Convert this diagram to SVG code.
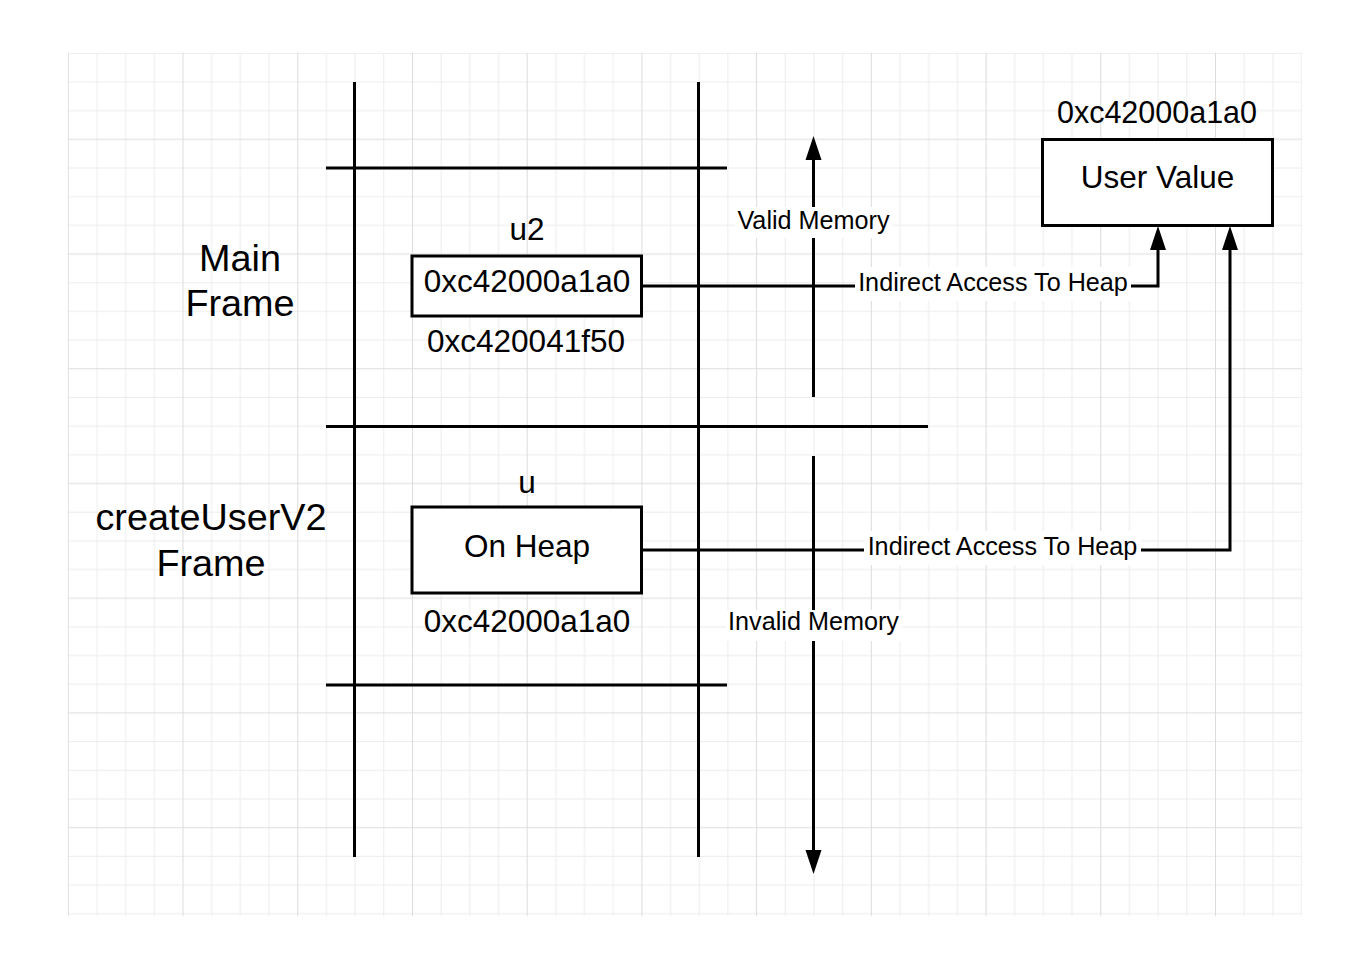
<svg xmlns="http://www.w3.org/2000/svg" width="1354" height="962" viewBox="0 0 1354 962">
  <defs>
    <style>
      text { font-family: "Liberation Sans", Arial, sans-serif; fill: #000; text-anchor: middle; }
      .big { font-size: 37.8px; }
      .mid { font-size: 31.5px; }
      .sm { font-size: 25.2px; }
      .ln { stroke: #000; stroke-width: 3; fill: none; }
      .box { stroke: #000; stroke-width: 3; fill: #fff; }
      .lbl { fill: #fff; }
      .minor { stroke: #ececec; stroke-width: 1; }
      .major { stroke: #dcdcdc; stroke-width: 1; }
    </style>
    <pattern id="grid" patternUnits="userSpaceOnUse" x="67.8" y="52.8" width="114.72" height="114.72">
      <line class="minor" x1="0.5" y1="0" x2="0.5" y2="114.72"/>
      <line class="minor" x1="29.18" y1="0" x2="29.18" y2="114.72"/>
      <line class="minor" x1="57.86" y1="0" x2="57.86" y2="114.72"/>
      <line class="minor" x1="86.54" y1="0" x2="86.54" y2="114.72"/>
      <line class="minor" x1="0" y1="0.5" x2="114.72" y2="0.5"/>
      <line class="minor" x1="0" y1="29.18" x2="114.72" y2="29.18"/>
      <line class="minor" x1="0" y1="57.86" x2="114.72" y2="57.86"/>
      <line class="major" x1="0" y1="86.54" x2="114.72" y2="86.54"/>
      <line class="major" x1="0.5" y1="0" x2="0.5" y2="114.72"/>
    </pattern>
    <marker id="arrow" markerUnits="userSpaceOnUse" markerWidth="26" markerHeight="18" refX="0" refY="8" orient="auto" viewBox="0 0 26 16">
      <path d="M0,0 L24,8 L0,16 Z" fill="#000"/>
    </marker>
  </defs>

  <rect x="0" y="0" width="1354" height="962" fill="#fff"/>
  <rect x="67.8" y="52.8" width="1234.3" height="863.4" fill="url(#grid)"/>

  <g id="frame-lines">
    <line class="ln" x1="354.5" y1="82" x2="354.5" y2="857"/>
    <line class="ln" x1="698.5" y1="82" x2="698.5" y2="857"/>
    <line class="ln" x1="326" y1="168" x2="727" y2="168"/>
    <line class="ln" x1="326" y1="426.5" x2="928" y2="426.5"/>
    <line class="ln" x1="326" y1="685" x2="727" y2="685"/>
  </g>

  <g id="connectors">
    <path class="ln" d="M642,286 H1158 V250" marker-end="url(#arrow)"/>
    <path class="ln" d="M642,550 H1230 V250" marker-end="url(#arrow)"/>
    <path class="ln" d="M813.5,397 V160" marker-end="url(#arrow)"/>
    <path class="ln" d="M813.5,456 V850" marker-end="url(#arrow)"/>
  </g>

  <g id="label-valid">
    <rect class="lbl" x="735" y="207" width="157" height="31"/>
    <text class="sm" x="813.5" y="229">Valid Memory</text>
  </g>
  <g id="label-invalid">
    <rect class="lbl" x="726" y="610" width="176" height="31"/>
    <text class="sm" x="813.5" y="630">Invalid Memory</text>
  </g>
  <g id="label-indirect-1">
    <rect class="lbl" x="855" y="267" width="276" height="34"/>
    <text class="sm" x="993" y="291">Indirect Access To Heap</text>
  </g>
  <g id="label-indirect-2">
    <rect class="lbl" x="864" y="531" width="277" height="34"/>
    <text class="sm" x="1002.5" y="555">Indirect Access To Heap</text>
  </g>

  <g id="main-frame">
    <text class="big" x="240" y="271">Main</text>
    <text class="big" x="240" y="316">Frame</text>
  </g>
  <g id="create-frame">
    <text class="big" x="211" y="530">createUserV2</text>
    <text class="big" x="211" y="576">Frame</text>
  </g>

  <g id="u2">
    <text class="mid" x="527" y="240">u2</text>
    <rect class="box" x="412" y="256" width="229.5" height="60"/>
    <text class="mid" x="527" y="292">0xc42000a1a0</text>
    <text class="mid" x="526" y="352">0xc420041f50</text>
  </g>

  <g id="u">
    <text class="mid" x="527" y="493">u</text>
    <rect class="box" x="412" y="507" width="229.5" height="86"/>
    <text class="mid" x="527" y="557">On Heap</text>
    <text class="mid" x="527" y="632">0xc42000a1a0</text>
  </g>

  <g id="user-value">
    <text class="mid" x="1157" y="123" style="font-size:30.5px">0xc42000a1a0</text>
    <rect class="box" x="1042.5" y="139.5" width="230" height="86"/>
    <text class="mid" x="1157.5" y="188">User Value</text>
  </g>
</svg>
